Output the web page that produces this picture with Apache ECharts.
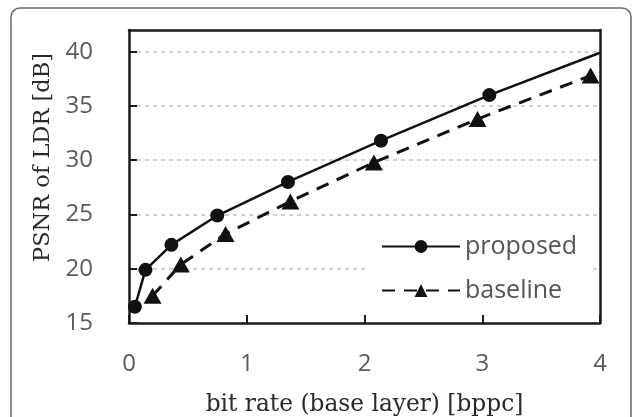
<!DOCTYPE html>
<html>
<head>
<meta charset="utf-8">
<title>PSNR vs bit rate</title>
<script src="https://cdn.jsdelivr.net/npm/echarts@6/dist/echarts.min.js"></script>
<style>
  html, body { margin: 0; padding: 0; background: #fff; }
  #chart { width: 633px; height: 417px; }
</style>
</head>
<body>
<div id="chart"></div>
<script>
// Bit rate of the base layer (bppc) and PSNR of the LDR image (dB)
const proposedRate = [0.05, 0.14, 0.36, 0.75, 1.35, 2.14, 3.06, 4.0];
const proposedPsnr = [16.5, 19.9, 22.2, 24.9, 28.0, 31.8, 36.0, 39.9];
const baselineRate = [0.2, 0.44, 0.82, 1.37, 2.08, 2.96, 3.92];
const baselinePsnr = [17.5, 20.4, 23.2, 26.2, 29.8, 33.8, 37.8];
const xTicks = [0, 1, 2, 3, 4];
const yTicks = [15, 20, 25, 30, 35, 40];

const serif = 'DejaVu Serif';
const sans = 'Open Sans';
const frame = { color: '#1a1a1a', width: 2.5 };

function pairs(xs, ys) {
  return xs.map((x, i) => [x, ys[i]]);
}

// last proposed point sits on the right frame; no marker there
const proposedData = pairs(proposedRate, proposedPsnr).map((p, i, arr) =>
  i === arr.length - 1 ? { value: p, symbol: 'none' } : p);

// top and right axes only close the plot frame
const frameAxis = (extra) => Object.assign({
  type: 'value',
  axisLine: { show: true, onZero: false, lineStyle: frame },
  axisTick: { show: false },
  axisLabel: { show: false },
  splitLine: { show: false }
}, extra);

const chart = echarts.init(document.getElementById('chart'));
chart.setOption({
  animation: false,
  backgroundColor: '#fff',
  graphic: [{
    type: 'rect',
    shape: { x: 11, y: 8, width: 620, height: 430, r: 9 },
    style: { fill: 'none', stroke: '#6a6a6a', lineWidth: 1.5 },
    z: -1
  }],
  grid: { left: 129, right: 33, top: 30, bottom: 94, outerBoundsMode: 'none', containLabel: false },
  legend: {
    orient: 'vertical',
    left: 368, top: 226,
    padding: [8, 15, 8, 13],
    backgroundColor: '#fff',
    itemWidth: 78, itemHeight: 16, itemGap: 19,
    textStyle: { fontFamily: sans, fontSize: 25, color: '#555', lineHeight: 24 },
    data: ['proposed', 'baseline']
  },
  xAxis: [{
    type: 'value', min: 0, max: 4, interval: 1,
    name: 'bit rate (base layer) [bppc]',
    nameLocation: 'middle', nameGap: 70,
    nameTextStyle: { fontFamily: serif, fontSize: 23.3, color: '#2a2a2a' },
    axisLine: { show: true, onZero: false, lineStyle: frame },
    axisTick: { show: true, inside: true, length: 8, lineStyle: { color: '#1a1a1a', width: 2 } },
    axisLabel: {
      margin: 29, fontFamily: sans, fontSize: 24, color: '#5a5a5a',
      formatter: v => xTicks.includes(v) ? String(v) : ''
    },
    splitLine: { show: false }
  }, frameAxis({ position: 'top', min: 0, max: 4 })],
  yAxis: [{
    type: 'value', min: 15, max: 42, interval: 5,
    name: 'PSNR of LDR [dB]',
    nameLocation: 'middle', nameGap: 59, nameRotate: 90,
    nameTextStyle: { fontFamily: serif, fontSize: 22.5, color: '#2a2a2a', padding: [0, 0, 0, 38] },
    axisLine: { show: true, onZero: false, lineStyle: frame },
    axisTick: { show: true, inside: true, length: 8, lineStyle: { color: '#1a1a1a', width: 2 } },
    axisLabel: {
      margin: 36, fontFamily: sans, fontSize: 24, color: '#5a5a5a',
      showMaxLabel: false,
      formatter: v => yTicks.includes(v) ? String(v) : ''
    },
    splitLine: { show: true, lineStyle: { color: '#c4c4c4', width: 1.5, type: [4, 4] } }
  }, frameAxis({ position: 'right', min: 15, max: 42 })],
  series: [
    {
      name: 'proposed', type: 'line',
      data: proposedData,
      symbol: 'circle', symbolSize: 14,
      itemStyle: { color: '#111' },
      lineStyle: { color: '#111', width: 2.5, type: 'solid' },
      z: 3
    },
    {
      name: 'baseline', type: 'line',
      data: pairs(baselineRate, baselinePsnr),
      symbol: 'triangle', symbolSize: [18, 16],
      itemStyle: { color: '#111' },
      lineStyle: { color: '#111', width: 3, type: [13, 9] },
      z: 2
    }
  ]
});
</script>
</body>
</html>
